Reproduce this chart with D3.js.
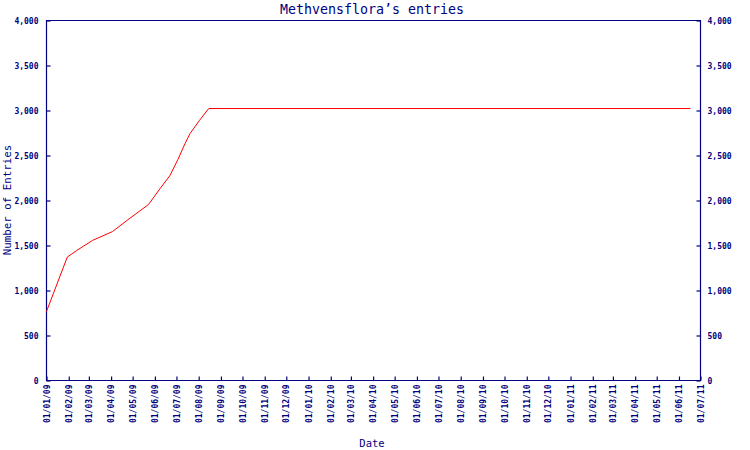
<!DOCTYPE html>
<html><head><meta charset="utf-8">
<script src="https://cdn.jsdelivr.net/npm/d3@7/dist/d3.min.js"></script>
<style>body{margin:0;background:#fff}svg{display:block}</style>
</head><body>
<svg id="c" width="750" height="450"></svg>
<script>
const dates = ["2009-01-01","2009-01-30","2009-02-12","2009-03-06","2009-04-03","2009-04-23","2009-05-23","2009-06-08","2009-06-22","2009-07-03","2009-07-13","2009-07-20","2009-08-02","2009-08-15","2011-06-17"];
const entries = [767,1372,1444,1556,1655,1778,1955,2130,2278,2455,2633,2744,2889,3022,3022];
const yTicks = [0,500,1000,1500,2000,2500,3000,3500,4000];
const title = "Methvensflora’s entries";
const xTitle = "Date";
const yTitle = "Number of Entries";

const navy = "#000080";
const font = "DejaVu Sans Mono, monospace";
const parse = d3.timeParse("%Y-%m-%d");
const data = dates.map((d,i)=>({d:parse(d), v:entries[i]}));
const L=46.5, R=700.5, T=20.5, B=380.5;
const svg = d3.select("#c");
const x = d3.scaleTime().domain([parse("2009-01-01"), parse("2011-07-01")]).range([L, R]);
const y = d3.scaleLinear().domain([0,4000]).range([B, T]);
const months = d3.timeMonth.range(parse("2009-01-01"), d3.timeDay.offset(parse("2011-07-01"),1));

svg.append("path").attr("d",`M${L},${B}V${T}H${R}V${B}Z`).attr("fill","none").attr("stroke",navy).attr("stroke-width",1.2);

const fmt = d3.format(",");
const yl = svg.append("g").attr("transform",`translate(${L},0)`)
  .call(d3.axisLeft(y).tickValues(yTicks).tickSize(-4).tickPadding(8).tickFormat(fmt));
const yr = svg.append("g").attr("transform",`translate(${R},0)`)
  .call(d3.axisRight(y).tickValues(yTicks).tickSize(-4).tickPadding(7).tickFormat(fmt));
const xb = svg.append("g").attr("transform",`translate(0,${B})`)
  .call(d3.axisBottom(x).tickValues(months).tickSize(-4).tickFormat(d3.timeFormat("%d/%m/%y")));
[yl,yr,xb].forEach(g=>{
  g.select(".domain").remove();
  g.selectAll(".tick line").attr("stroke",navy).attr("stroke-width",1.2);
  g.selectAll(".tick text").attr("fill",navy).attr("font-family",font).attr("font-size",8).attr("font-weight","bold");
});
xb.selectAll(".tick text").attr("transform","rotate(-90)").attr("text-anchor","end")
  .attr("x",-4).attr("y",0).attr("dy","0.32em");

svg.append("path").datum(data)
  .attr("d", d3.line().x(d=>x(d.d)).y(d=>y(d.v)))
  .attr("fill","none").attr("stroke","#ff0000").attr("stroke-width",1);

svg.append("text").attr("x",372).attr("y",14).attr("text-anchor","middle")
  .attr("fill",navy).attr("font-family",font).attr("font-size",13.3).text(title);
svg.append("text").attr("x",372).attr("y",447).attr("text-anchor","middle")
  .attr("fill",navy).attr("font-family",font).attr("font-size",10.5).text(xTitle);
svg.append("text").attr("transform","translate(11,200) rotate(-90)").attr("text-anchor","middle")
  .attr("fill",navy).attr("font-family",font).attr("font-size",10.8).text(yTitle);
</script>
</body></html>
